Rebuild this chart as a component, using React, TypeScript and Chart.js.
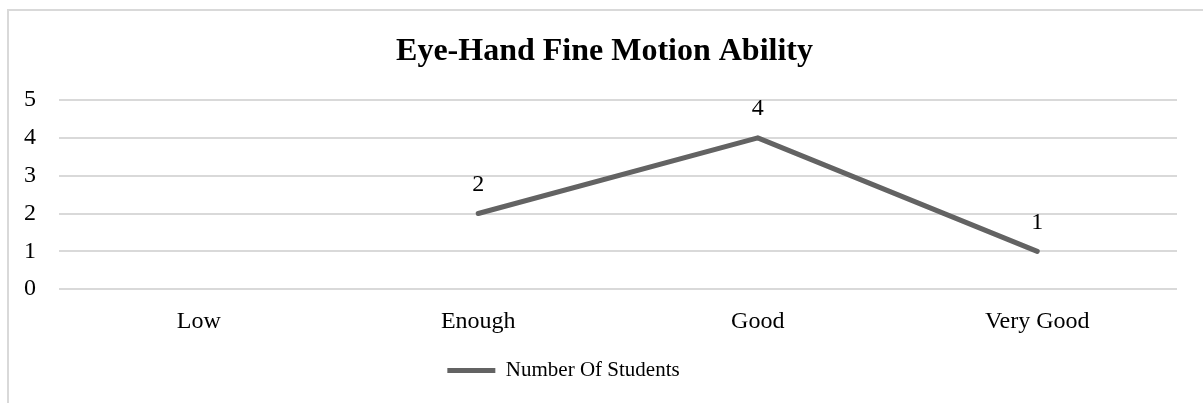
import React, { useEffect, useRef } from "react";
import { Chart, registerables } from "chart.js";

Chart.register(...registerables);

const categories = ["Low", "Enough", "Good", "Very Good"];
const studentCounts: (number | null)[] = [null, 2, 4, 1];
const yTicks = [0, 1, 2, 3, 4, 5];
const seriesName = "Number Of Students";
const chartTitle = "Eye-Hand Fine Motion Ability";

const FONT = "'Liberation Serif', 'Times New Roman', serif";

const valueLabels = {
  id: "valueLabels",
  afterDatasetsDraw(chart: any) {
    const ctx = chart.ctx;
    ctx.save();
    ctx.font = `24px ${FONT}`;
    ctx.fillStyle = "#000000";
    ctx.textAlign = "center";
    ctx.textBaseline = "middle";
    chart.data.datasets.forEach((ds: any, i: number) => {
      const meta = chart.getDatasetMeta(i);
      meta.data.forEach((pt: any, j: number) => {
        const v = ds.data[j];
        if (v === null || v === undefined) return;
        ctx.fillText(String(v), pt.x, pt.y - 29);
      });
    });
    ctx.restore();
  },
};

const boxShift = {
  id: "boxShift",
  afterLayout(chart: any) {
    const lg = chart.legend;
    if (lg) {
      lg.left -= 25;
      lg.right -= 25;
    }
    const tt = chart.titleBlock;
    if (tt) {
      tt.left += 16;
      tt.right += 16;
    }
  },
};

export default function App() {
  const ref = useRef<HTMLCanvasElement | null>(null);

  useEffect(() => {
    document.body.style.margin = "0";
    const canvas = ref.current;
    if (!canvas) return;
    const chart = new Chart(canvas, {
      type: "line",
      data: {
        labels: categories,
        datasets: [
          {
            label: seriesName,
            data: studentCounts,
            borderColor: "#636363",
            backgroundColor: "#636363",
            borderWidth: 5,
            borderCapStyle: "round",
            borderJoinStyle: "round",
            pointRadius: 0,
            pointHoverRadius: 0,
            tension: 0,
            fill: false,
          },
        ],
      },
      options: {
        animation: false,
        responsive: false,
        maintainAspectRatio: false,
        layout: { padding: { left: 0, right: 26, top: 0, bottom: 12 } },
        plugins: {
          title: {
            display: true,
            text: chartTitle,
            color: "#000000",
            font: { family: FONT, size: 32, weight: "bold", lineHeight: 1.2 },
            padding: { top: 33, bottom: 28.6 },
          },
          legend: {
            display: true,
            position: "bottom",
            labels: {
              usePointStyle: true,
              pointStyle: "line",
              pointStyleWidth: 48,
              color: "#000000",
              font: { family: FONT, size: 21 },
              padding: 6,
            },
          },
          tooltip: { enabled: false },
        },
        scales: {
          x: {
            offset: true,
            grid: { display: false, drawTicks: false },
            border: { display: false },
            ticks: {
              color: "#000000",
              font: { family: FONT, size: 24 },
              padding: 18,
              maxRotation: 0,
            },
          },
          y: {
            min: 0,
            max: 5,
            afterBuildTicks(scale: any) {
              scale.ticks = yTicks.map((v) => ({ value: v }));
            },
            afterFit(scale: any) {
              scale.width = 59;
            },
            grid: { color: "#d9d9d9", lineWidth: 2, drawTicks: false },
            border: { display: false },
            ticks: {
              color: "#000000",
              font: { family: FONT, size: 24 },
              padding: 23,
            },
          },
        },
      },
      plugins: [valueLabels, boxShift],
    });
    return () => chart.destroy();
  }, []);

  return (
    <div style={{ position: "relative", width: 1203, height: 403, overflow: "hidden", background: "#ffffff" }}>
      <div
        style={{
          position: "absolute",
          left: 7,
          top: 9,
          width: 1400,
          height: 600,
          borderLeft: "2px solid #d9d9d9",
          borderTop: "2px solid #d9d9d9",
          boxSizing: "border-box",
        }}
      />
      <canvas ref={ref} width={1203} height={403} style={{ position: "absolute", left: 0, top: 0, display: "block" }} />
    </div>
  );
}
